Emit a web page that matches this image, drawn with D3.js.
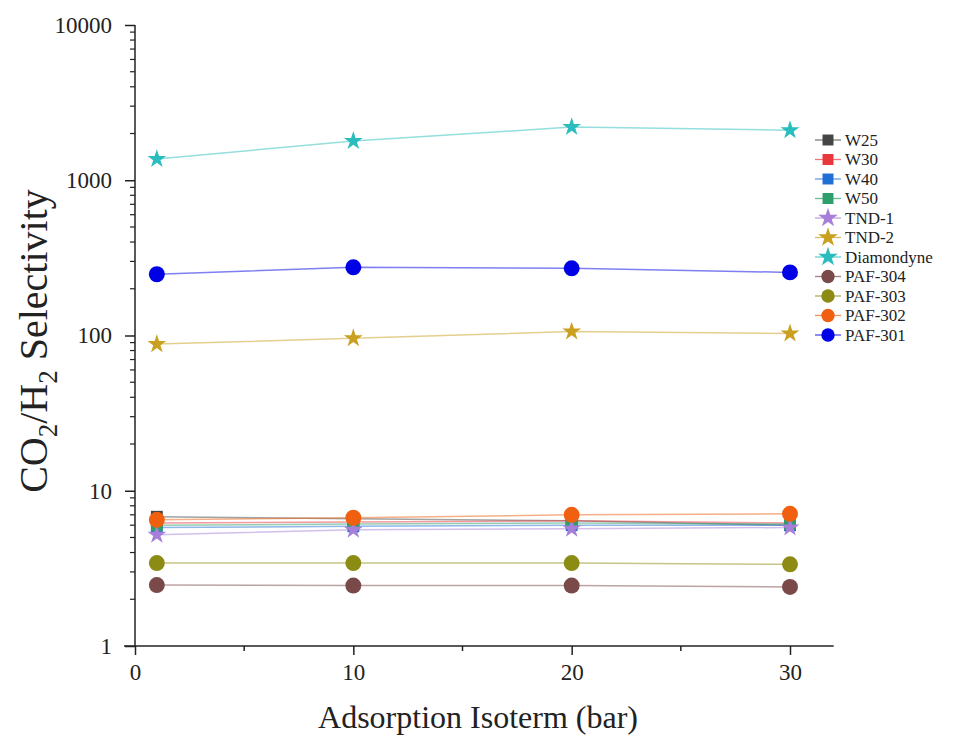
<!DOCTYPE html>
<html><head><meta charset="utf-8">
<script src="https://cdn.jsdelivr.net/npm/d3@7"></script>
<style>body{margin:0;background:#fff}svg{display:block}</style>
</head><body>
<svg id="c" width="954" height="742"></svg>
<script>
const xValues = [1, 10, 20, 30];
const seriesNames = ["W25","W30","W40","W50","TND-1","TND-2","Diamondyne","PAF-304","PAF-303","PAF-302","PAF-301"];
const W25 = [6.8, 6.6, 6.4, 6.0];
const W30 = [6.2, 6.3, 6.4, 6.2];
const W40 = [5.8, 5.9, 6.0, 6.0];
const W50 = [6.0, 6.1, 6.2, 6.1];
const TND1 = [5.2, 5.6, 5.7, 5.8];
const TND2 = [88, 96, 106, 103];
const Diamondyne = [1370, 1790, 2200, 2100];
const PAF304 = [2.47, 2.45, 2.45, 2.40];
const PAF303 = [3.42, 3.42, 3.42, 3.36];
const PAF302 = [6.5, 6.7, 7.0, 7.1];
const PAF301 = [248, 275, 271, 255];
const xTicks = [0, 10, 20, 30];
const xMinorTicks = [5, 15, 25];
const yTicks = [1, 10, 100, 1000, 10000];

const seriesValues = [W25, W30, W40, W50, TND1, TND2, Diamondyne, PAF304, PAF303, PAF302, PAF301];
const colors = ["#454545","#e8383d","#1f6fd6","#2e9e6a","#a57fd8","#c9a020","#2bbdbd","#7a4a4a","#8c8c14","#f06010","#0000e6"];
const shapes = ["square","square","square","square","star","star","star","circle","circle","circle","circle"];

const svg = d3.select("#c");
const x = d3.scaleLinear().domain([0, 30]).range([135, 790]);
const y = d3.scaleLog().domain([1, 10000]).range([646, 25]);
const serif = "'Liberation Serif','Times New Roman',serif";

// axes
const xAxisG = svg.append("g").attr("transform", "translate(0,646)");
xAxisG.append("line").attr("x1", x(-0.5)).attr("x2", x(32)).attr("y1", 0).attr("y2", 0)
  .attr("stroke", "#222").attr("stroke-width", 1.5);
xAxisG.call(d3.axisBottom(x).tickValues(xTicks).tickSize(9).tickFormat(d3.format("d")))
  .call(g => g.select(".domain").remove())
  .attr("font-family", serif).attr("font-size", 23);
xAxisG.selectAll(".tick line").attr("stroke", "#222").attr("stroke-width", 1.5);
xAxisG.selectAll(".tick text").attr("fill", "#222").attr("dy", "0.95em");
xAxisG.selectAll(".minor").data(xMinorTicks).enter().append("line").attr("class", "minor")
  .attr("x1", d => x(d)).attr("x2", d => x(d)).attr("y1", 0).attr("y2", 5)
  .attr("stroke", "#222").attr("stroke-width", 1.5);

const yAxisG = svg.append("g").attr("transform", `translate(${x(0)},0)`);
yAxisG.call(d3.axisLeft(y).tickValues(yTicks).tickSize(10).tickPadding(13).tickFormat(d3.format("d")))
  .call(g => g.select(".domain").remove())
  .attr("font-family", serif).attr("font-size", 23);
yAxisG.append("line").attr("x1", 0).attr("x2", 0).attr("y1", y(10000)).attr("y2", y(1))
  .attr("stroke", "#222").attr("stroke-width", 1.5);
yAxisG.selectAll(".tick line").attr("stroke", "#222").attr("stroke-width", 1.5);
yAxisG.selectAll(".tick text").attr("fill", "#222");
const yMinor = [];
for (let p = 1; p < 10000; p *= 10) for (let k = 2; k <= 9; k++) yMinor.push(p * k);
yAxisG.selectAll(".minor").data(yMinor).enter().append("line").attr("class", "minor")
  .attr("x1", 0).attr("x2", -5).attr("y1", d => y(d)).attr("y2", d => y(d))
  .attr("stroke", "#222").attr("stroke-width", 1.2);

// axis titles
svg.append("text").attr("x", 478).attr("y", 728).attr("text-anchor", "middle")
  .attr("font-family", serif).attr("font-size", 32).attr("fill", "#222").text("Adsorption Isoterm (bar)");
const yt = svg.append("text").attr("transform", "translate(47,341) rotate(-90)").attr("text-anchor", "middle")
  .attr("font-family", serif).attr("font-size", 40).attr("fill", "#222");
yt.append("tspan").text("CO");
yt.append("tspan").attr("font-size", 27).attr("dy", 10).text("2");
yt.append("tspan").attr("dy", -10).text("/H");
yt.append("tspan").attr("font-size", 27).attr("dy", 10).text("2");
yt.append("tspan").attr("dy", -10).text(" Selectivity");

// markers
const sym = {
  square: d3.symbol().type(d3.symbolSquare).size(140),
  star: d3.symbol().type(d3.symbolStar).size(110),
  circle: d3.symbol().type(d3.symbolCircle).size(200)
};
const line = d3.line().x(d => x(d[0])).y(d => y(d[1]));

seriesValues.forEach((vals, i) => {
  const pts = xValues.map((xv, j) => [xv, vals[j]]);
  const g = svg.append("g");
  g.append("path").attr("d", line(pts)).attr("fill", "none")
    .attr("stroke", colors[i]).attr("stroke-opacity", 0.5).attr("stroke-width", 1.5);
  g.selectAll("path.m").data(pts).enter().append("path").attr("class", "m")
    .attr("d", sym[shapes[i]]).attr("transform", d => `translate(${x(d[0])},${y(d[1])})`)
    .attr("fill", colors[i]);
});

// legend
const lg = svg.append("g").attr("transform", "translate(815,140)");
seriesNames.forEach((name, i) => {
  const r = lg.append("g").attr("transform", `translate(0,${i * 19.5})`);
  r.append("line").attr("x1", 0).attr("x2", 26).attr("y1", 0).attr("y2", 0)
    .attr("stroke", colors[i]).attr("stroke-opacity", 0.7).attr("stroke-width", 1.3);
  r.append("path").attr("d", d3.symbol().type(shapes[i] === "square" ? d3.symbolSquare : shapes[i] === "star" ? d3.symbolStar : d3.symbolCircle)
      .size(shapes[i] === "circle" ? 140 : 120)).attr("transform", "translate(13,0)").attr("fill", colors[i]);
  r.append("text").attr("x", 30).attr("y", 0).attr("dy", "0.35em").attr("font-family", serif)
    .attr("font-size", 17).attr("fill", "#222").text(name);
});
</script>
</body></html>
